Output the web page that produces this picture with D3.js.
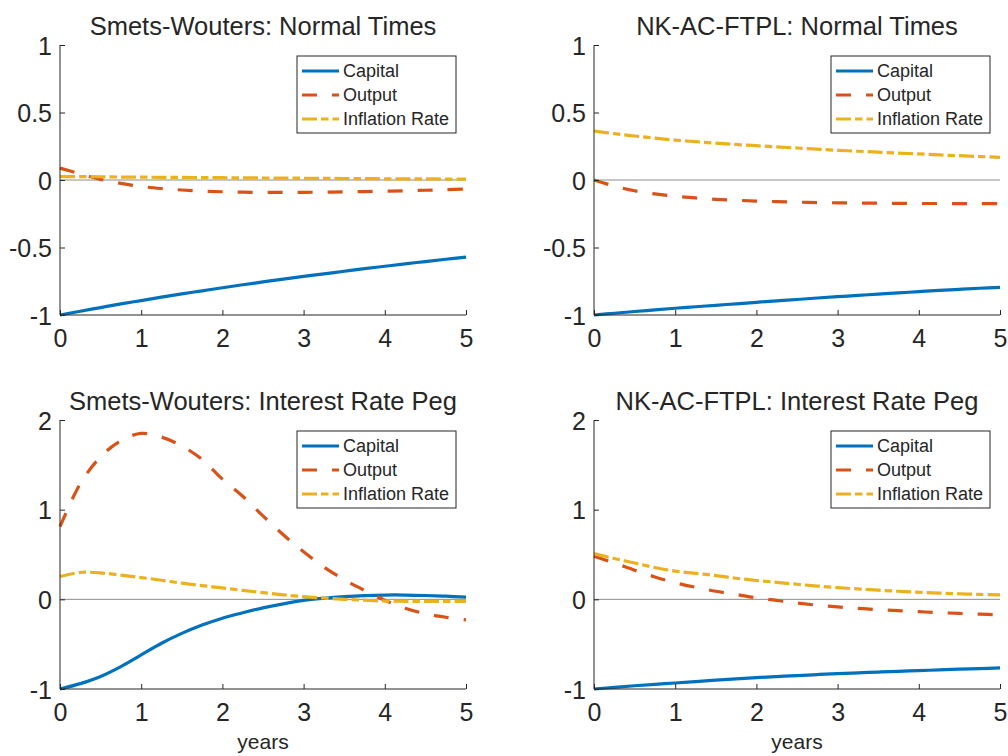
<!DOCTYPE html>
<html><head><meta charset="utf-8">
<script src="https://cdn.jsdelivr.net/npm/d3@7"></script>
<style>body{margin:0;background:#fff}svg{display:block}text{font-family:"Liberation Sans",Arial,Helvetica,sans-serif;fill:#262626}</style>
</head><body>
<svg id="c" width="1008" height="756"></svg>
<script>
// quarterly horizon, years
const years = [0,0.25,0.5,0.75,1,1.25,1.5,1.75,2,2.25,2.5,2.75,3,3.25,3.5,3.75,4,4.25,4.5,4.75,5];
const seriesNames = ["Capital","Output","Inflation Rate"];
const xTicks = [0,1,2,3,4,5];
const yTicksNormal = [-1,-0.5,0,0.5,1];
const yTicksPeg = [-1,0,1,2];
const titles = ["Smets-Wouters: Normal Times","NK-AC-FTPL: Normal Times","Smets-Wouters: Interest Rate Peg","NK-AC-FTPL: Interest Rate Peg"];

const swNormalCapital = [-1,-0.972,-0.945,-0.918,-0.893,-0.868,-0.844,-0.821,-0.798,-0.776,-0.755,-0.734,-0.714,-0.695,-0.676,-0.657,-0.639,-0.621,-0.604,-0.587,-0.571];
const swNormalOutput = [0.088,0.045,0.005,-0.025,-0.048,-0.063,-0.074,-0.082,-0.087,-0.09,-0.092,-0.092,-0.091,-0.09,-0.088,-0.086,-0.083,-0.08,-0.076,-0.072,-0.067];
const swNormalInflation = [0.026,0.025,0.024,0.022,0.021,0.02,0.019,0.018,0.017,0.016,0.015,0.014,0.013,0.012,0.011,0.010,0.009,0.008,0.008,0.007,0.006];

const nkNormalCapital = [-1,-0.987,-0.974,-0.962,-0.95,-0.939,-0.928,-0.917,-0.906,-0.895,-0.885,-0.874,-0.864,-0.855,-0.845,-0.836,-0.827,-0.818,-0.81,-0.802,-0.795];
const nkNormalOutput = [0,-0.045,-0.08,-0.103,-0.12,-0.133,-0.143,-0.15,-0.156,-0.16,-0.164,-0.167,-0.169,-0.171,-0.172,-0.173,-0.174,-0.174,-0.175,-0.175,-0.175];
const nkNormalInflation = [0.363,0.343,0.326,0.31,0.296,0.284,0.273,0.263,0.254,0.245,0.237,0.228,0.22,0.213,0.206,0.199,0.193,0.186,0.18,0.174,0.168];

const swPegCapital = [-1,-0.94,-0.86,-0.75,-0.62,-0.49,-0.38,-0.287,-0.21,-0.15,-0.095,-0.05,-0.012,0.012,0.03,0.042,0.048,0.048,0.043,0.035,0.025];
const swPegOutput = [0.81,1.29,1.59,1.77,1.85,1.81,1.71,1.56,1.34,1.15,0.93,0.72,0.53,0.36,0.22,0.1,-0.01,-0.1,-0.16,-0.2,-0.23];
const swPegInflation = [0.254,0.3,0.295,0.27,0.243,0.213,0.18,0.153,0.127,0.1,0.075,0.05,0.03,0.015,0,-0.01,-0.019,-0.022,-0.024,-0.024,-0.023];

const nkPegCapital = [-1,-0.981,-0.964,-0.948,-0.933,-0.917,-0.901,-0.887,-0.873,-0.861,-0.85,-0.839,-0.828,-0.82,-0.811,-0.803,-0.795,-0.787,-0.779,-0.772,-0.765];
const nkPegOutput = [0.48,0.405,0.325,0.25,0.185,0.135,0.09,0.055,0.017,-0.012,-0.04,-0.065,-0.085,-0.1,-0.115,-0.127,-0.138,-0.148,-0.157,-0.166,-0.172];
const nkPegInflation = [0.51,0.455,0.405,0.355,0.315,0.29,0.265,0.235,0.21,0.19,0.168,0.148,0.13,0.116,0.102,0.09,0.079,0.07,0.062,0.055,0.05];

const colors = ["#0072BD","#D95319","#EDB120"];
const dashes = [null,"15,15","15,4,7.5,4"];

const panels = [
  {title:titles[0], x0:60, y0:45, y1:315, dom:[-1,1], yt:yTicksNormal, data:[swNormalCapital,swNormalOutput,swNormalInflation], xlabel:false},
  {title:titles[1], x0:594, y0:45, y1:315, dom:[-1,1], yt:yTicksNormal, data:[nkNormalCapital,nkNormalOutput,nkNormalInflation], xlabel:false},
  {title:titles[2], x0:60, y0:420, y1:689, dom:[-1,2], yt:yTicksPeg, data:[swPegCapital,swPegOutput,swPegInflation], xlabel:true},
  {title:titles[3], x0:594, y0:420, y1:689, dom:[-1,2], yt:yTicksPeg, data:[nkPegCapital,nkPegOutput,nkPegInflation], xlabel:true}
];
const W = 406;
const svg = d3.select("#c");
const axisCol = "#262626";

panels.forEach(p => {
  const g = svg.append("g");
  const x = d3.scaleLinear().domain([0,5]).range([p.x0, p.x0+W]);
  const y = d3.scaleLinear().domain(p.dom).range([p.y1, p.y0]);

  // zero line
  g.append("line").attr("x1",x(0)).attr("x2",x(5)).attr("y1",y(0)).attr("y2",y(0))
    .attr("stroke","#8c8c8c").attr("stroke-width",1);

  // series
  const line = d3.line().x((d,i)=>x(years[i])).y(d=>y(d)).curve(d3.curveCatmullRom);
  p.data.forEach((s,k) => {
    g.append("path").attr("d", line(s)).attr("fill","none")
      .attr("stroke",colors[k]).attr("stroke-width",3.2)
      .attr("stroke-dasharray",dashes[k]);
  });

  // axes
  const xa = d3.axisBottom(x).tickValues(xTicks).tickSize(-5).tickPadding(12).tickFormat(d3.format("d"));
  const ya = d3.axisLeft(y).tickValues(p.yt).tickSize(-5).tickPadding(8).tickFormat(d=>String(d));
  const gx = g.append("g").attr("transform",`translate(0,${p.y1})`).call(xa);
  const gy = g.append("g").attr("transform",`translate(${p.x0},0)`).call(ya);
  [gx,gy].forEach(a=>{
    a.select(".domain").attr("stroke",axisCol).attr("stroke-width",1);
    a.selectAll(".tick line").attr("stroke",axisCol);
    a.selectAll("text").attr("font-size",25).attr("fill",axisCol)
      .style("font-family","'Liberation Sans',Arial,sans-serif");
  });
  gx.select(".domain").attr("d",`M${x(0)},0H${x(5)}`);
  gy.select(".domain").attr("d",`M0,${p.y0}V${p.y1}`);
  gx.selectAll("text").attr("dy","0.71em").attr("y",14);
  gy.selectAll("text").attr("dy","0.36em");

  // title
  g.append("text").attr("x",(x(0)+x(5))/2).attr("y",p.y0-10).attr("text-anchor","middle")
    .attr("font-size",25.5).text(p.title);

  if (p.xlabel) {
    g.append("text").attr("x",(x(0)+x(5))/2).attr("y",p.y1+60).attr("text-anchor","middle")
      .attr("font-size",21).text("years");
  }

  // legend
  const lx = p.x0+237, ly = p.y0+11;
  const lg = g.append("g");
  lg.append("rect").attr("x",lx).attr("y",ly).attr("width",159).attr("height",77)
    .attr("fill","#fff").attr("stroke",axisCol).attr("stroke-width",1);
  seriesNames.forEach((n,k)=>{
    const yy = ly + 15 + k*24;
    lg.append("line").attr("x1",lx+5).attr("x2",lx+42).attr("y1",yy).attr("y2",yy)
      .attr("stroke",colors[k]).attr("stroke-width",3.2).attr("stroke-dasharray",dashes[k]);
    lg.append("text").attr("x",lx+46).attr("y",yy).attr("dy","0.35em").attr("font-size",18).text(n);
  });
});
</script>
</body></html>
